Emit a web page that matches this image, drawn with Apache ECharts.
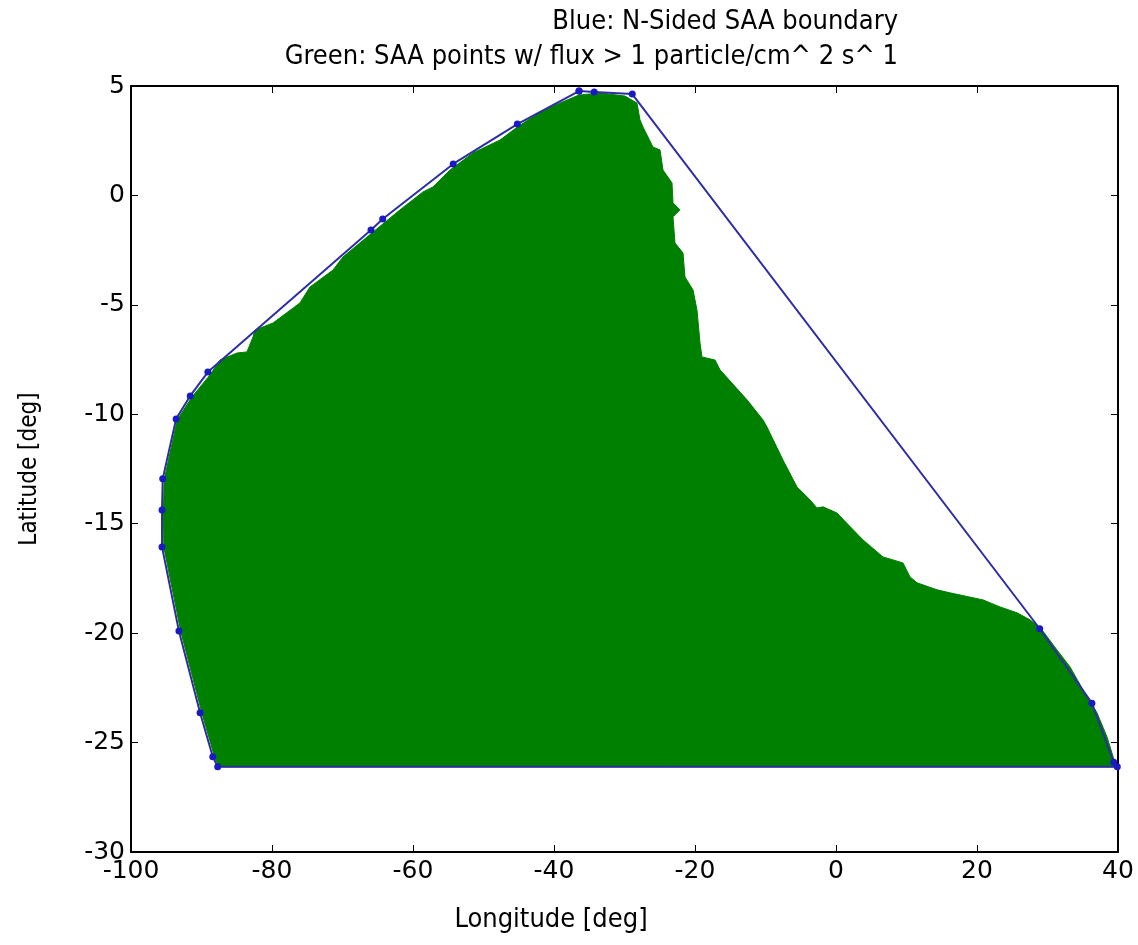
<!DOCTYPE html>
<html>
<head>
<meta charset="utf-8">
<script src="https://cdn.jsdelivr.net/npm/echarts@6/dist/echarts.min.js"></script>
<style>html,body{margin:0;padding:0;background:#fff;}#c{width:1138px;height:945px;}</style>
</head>
<body>
<div id="c"></div>
<script>
// Axis ticks
const xTicks = [-100, -80, -60, -40, -20, 0, 20, 40];
const yTicks = [-30, -25, -20, -15, -10, -5, 0, 5];

// Blue: N-sided SAA boundary vertices (lon, lat)
const boundaryLon = [-36.45, -34.3, -28.9, 28.9, 36.3, 39.4, 39.9, -87.7, -88.4, -90.2, -93.2, -95.6, -95.6, -95.5, -93.6, -91.6, -89.1, -65.96, -64.3, -54.3, -45.2, -36.45];
const boundaryLat = [4.77, 4.73, 4.63, -19.8, -23.2, -25.9, -26.1, -26.1, -25.65, -23.64, -19.9, -16.06, -14.37, -12.95, -10.21, -9.16, -8.07, -1.58, -1.08, 1.44, 3.26, 4.77];

// Green: outline of SAA points with flux > 1 (lon, lat)
const greenLon = [-87.5, -88.15, -89.95, -92.95, -95.35, -95.4, -95.3, -93.45, -91.35, -88.79, -87.38, -84.96, -83.55, -82.70, -82.41, -79.86, -76.03, -74.61, -71.35, -69.93, -66.52, -61.84, -58.58, -57.16, -54.75, -51.49, -47.66, -45.39, -41.99, -39.15, -36.45, -33.48, -29.93, -28.23, -27.80, -27.38, -25.96, -24.96, -24.54, -23.26, -23.12, -22.13, -23.12, -22.84, -21.70, -21.42, -20.28, -19.72, -19.29, -19.01, -17.16, -16.45, -12.62, -10.35, -9.79, -7.52, -5.53, -3.69, -2.70, -1.84, 0.14, 3.83, 6.67, 9.50, 10.50, 11.49, 14.33, 16.17, 20.85, 23.26, 25.67, 27.52, 29.22, 31.35, 33.19, 35.04, 37.02, 38.44, 39.57, 39.86];
const greenLat = [-26.11, -25.65, -23.64, -19.90, -16.06, -14.4, -13.00, -10.26, -9.21, -8.20, -7.52, -7.20, -7.15, -6.47, -6.15, -5.83, -4.91, -4.18, -3.41, -2.81, -1.90, -0.66, 0.16, 0.39, 1.16, 1.94, 2.53, 3.08, 3.81, 4.22, 4.59, 4.68, 4.54, 4.22, 3.45, 3.13, 2.21, 2.08, 1.16, 0.57, -0.34, -0.66, -0.98, -2.17, -2.63, -3.73, -4.32, -5.23, -6.74, -7.38, -7.52, -7.97, -9.34, -10.26, -10.58, -12.09, -13.32, -13.91, -14.28, -14.23, -14.51, -15.74, -16.52, -16.79, -17.43, -17.70, -18.02, -18.16, -18.48, -18.80, -19.07, -19.39, -19.85, -20.77, -21.54, -22.59, -23.64, -24.74, -25.93, -26.11];

const FONT = 'DejaVu Sans';
const FONT_C = '"DejaVu Sans Condensed", "DejaVu Sans"';
const chart = echarts.init(document.getElementById('c'), null, {renderer: 'canvas'});

const axisCommon = {
  type: 'value',
  splitLine: {show: false},
  axisLine: {show: true, onZero: false, lineStyle: {color: '#000', width: 2}},
  axisTick: {show: true, inside: true, length: 7, lineStyle: {color: '#000', width: 1}}
};

const option = {
  backgroundColor: '#fff',
  animation: false,
  grid: {left: 131, right: 20, top: 86, bottom: 93, containLabel: false},
  xAxis: [
    Object.assign({}, axisCommon, {
      min: xTicks[0], max: xTicks[xTicks.length - 1], interval: 20, position: 'bottom',
      axisLabel: {show: true, color: '#000', fontFamily: FONT, fontSize: 25, margin: 7}
    }),
    Object.assign({}, axisCommon, {
      min: xTicks[0], max: xTicks[xTicks.length - 1], interval: 20, position: 'top',
      axisLabel: {show: false}
    })
  ],
  yAxis: [
    Object.assign({}, axisCommon, {
      min: yTicks[0], max: yTicks[yTicks.length - 1], interval: 5, position: 'left',
      axisLabel: {show: true, color: '#000', fontFamily: FONT, fontSize: 25, margin: 6}
    }),
    Object.assign({}, axisCommon, {
      min: yTicks[0], max: yTicks[yTicks.length - 1], interval: 5, position: 'right',
      axisLabel: {show: false}
    })
  ],
  graphic: [
    {type: 'text', x: 898, y: 22, style: {text: 'Blue: N-Sided SAA boundary', fill: '#000', font: '27px ' + FONT_C, textAlign: 'right', textVerticalAlign: 'middle'}},
    {type: 'text', x: 898, y: 57, style: {text: 'Green: SAA points w/ flux > 1 particle/cm^ 2 s^ 1', fill: '#000', font: '27px ' + FONT_C, textAlign: 'right', textVerticalAlign: 'middle'}},
    {type: 'text', x: 551, y: 920, style: {text: 'Longitude [deg]', fill: '#000', font: '27px ' + FONT_C, textAlign: 'center', textVerticalAlign: 'middle'}},
    {type: 'text', x: 30, y: 469, rotation: Math.PI / 2, style: {text: 'Latitude [deg]', fill: '#000', font: '24px ' + FONT_C, textAlign: 'center', textVerticalAlign: 'middle'}}
  ],
  series: [
    {
      type: 'custom',
      name: 'green',
      xAxisIndex: 0, yAxisIndex: 0,
      data: greenLon.map((x, i) => [x, greenLat[i]]),
      encode: {x: 0, y: 1},
      renderItem: function (params, api) {
        if (params.dataIndex !== 0) return null;
        const pts = greenLon.map((x, i) => api.coord([x, greenLat[i]]));
        return {type: 'polygon', shape: {points: pts}, style: {fill: '#008000', stroke: '#008000', lineWidth: 1}};
      },
      z: 1
    },
    {
      type: 'line',
      name: 'blue',
      xAxisIndex: 0, yAxisIndex: 0,
      data: boundaryLon.map((x, i) => [x, boundaryLat[i]]),
      symbol: 'circle', symbolSize: 7, showSymbol: true,
      lineStyle: {color: '#2e2ea2', width: 2},
      itemStyle: {color: '#1a1ac4'},
      z: 3
    }
  ]
};
chart.setOption(option);
</script>
</body>
</html>
